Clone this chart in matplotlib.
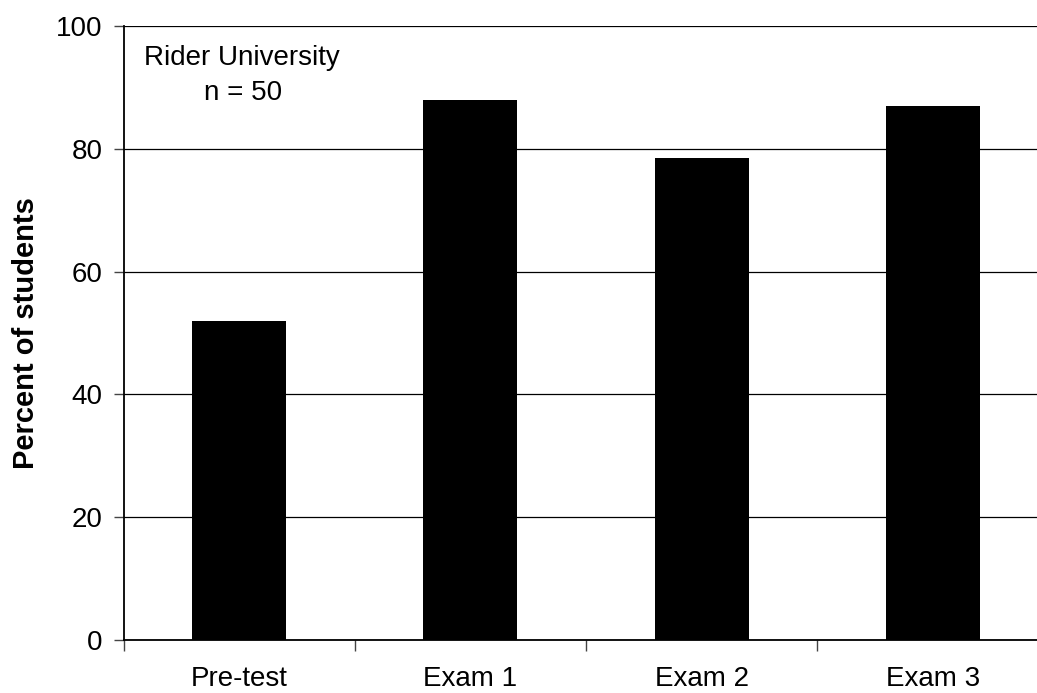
import matplotlib
matplotlib.use("Agg")
import matplotlib.pyplot as plt

categories = ["Pre-test", "Exam 1", "Exam 2", "Exam 3"]
percent = [52, 88, 78.5, 87]
yticks = [0, 20, 40, 60, 80, 100]

plt.rcParams['font.family'] = ['Liberation Sans', 'DejaVu Sans']

fig = plt.figure(figsize=(10.37, 6.93), dpi=100)
ax = fig.add_axes([123.5/1037, 53/693, 925/1037, 614/693])

x = list(range(len(categories)))
ax.bar(x, percent, width=0.407, color='black', zorder=3)

ax.set_xlim(-0.5, len(categories) - 0.5)
ax.set_ylim(0, 100)
ax.set_yticks(yticks)
ax.yaxis.grid(True, color='black', linewidth=0.9, zorder=0)
ax.set_axisbelow(True)

ax.set_xticks([i + 0.5 for i in range(-1, len(categories))])
ax.set_xticklabels([])
ax.set_xticks(x, minor=True)
ax.set_xticklabels(categories, minor=True, fontsize=20)
ax.tick_params(axis='x', which='major', direction='out', length=8, width=1, color='#444444')
ax.tick_params(axis='x', which='minor', length=0, pad=19)
ax.tick_params(axis='y', direction='out', length=7, width=1, color='#444444', labelsize=20, pad=8)

for s in ['top', 'right']:
    ax.spines[s].set_visible(False)
ax.spines['left'].set_linewidth(1.3)
ax.spines['bottom'].set_linewidth(1.3)

fig.text(26/1037, 1 - 333/693, "Percent of students", rotation=90, ha='center', va='center',
         fontsize=21, fontweight='bold')

ax.text(144/1037, 1 - 65/693, "Rider University", transform=fig.transFigure, fontsize=20,
        ha='left', va='baseline')
ax.text(204/1037, 1 - 100/693, "n = 50", transform=fig.transFigure, fontsize=20,
        ha='left', va='baseline')

fig.savefig("out.png", dpi=100)
